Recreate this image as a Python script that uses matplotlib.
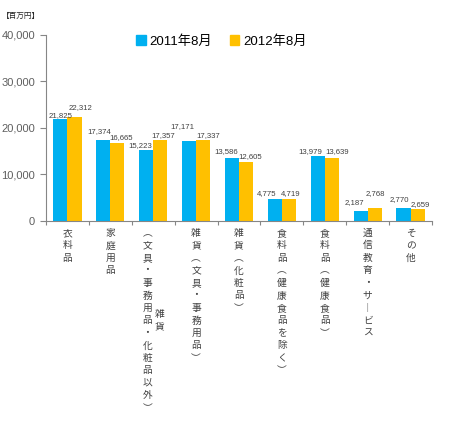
import matplotlib
matplotlib.use('Agg')
import matplotlib.pyplot as plt
import numpy as np
from matplotlib.patches import Patch

plt.rcParams['font.family'] = ['Liberation Sans', 'Noto Sans CJK JP', 'DejaVu Sans']

# data
categories = ['衣料品', '家庭用品', '雑貨（文具・事務用品・化粧品以外）', '雑貨（文具・事務用品）',
              '雑貨（化粧品）', '食料品（健康食品を除く）', '食料品（健康食品）',
              '通信教育・サービス', 'その他']
aug2011 = [21825, 17374, 15223, 17171, 13586, 4775, 13979, 2187, 2770]
aug2012 = [22312, 16665, 17357, 17337, 12605, 4719, 13639, 2768, 2659]
series_names = ['2011年8月', '2012年8月']
unit_label = '【百万円】'

# vertical-text columns for each category label (right column first, as in vertical writing)
label_columns = [
    ['衣料品'],
    ['家庭用品'],
    ['雑貨', '︵文具・事務用品・化粧品以外︶'],
    ['雑貨︵文具・事務用品︶'],
    ['雑貨︵化粧品︶'],
    ['食料品︵健康食品を除く︶'],
    ['食料品︵健康食品︶'],
    ['通信教育・サ︱ビス'],
    ['その他'],
]

# manual nudges of the value labels (pixels: dx, dy above bar top)
nudge_2011 = [(0, 4), (-4, 9), (-6, 5), (-7, 15), (-6, 6), (-8, 5), (-7, 4), (-6, 8), (-4, 9)]
nudge_2012 = [(6, 10), (4, 6), (3, 5), (5, 5), (4, 6), (2, 5), (5, 6), (1, 15), (3, 4)]

blue = '#00B0F0'
orange = '#FFC000'
axis_grey = '#868686'

fig = plt.figure(figsize=(4.5, 4.24), dpi=100)
ax = fig.add_axes([0.1022, 0.4788, 0.8578, 0.4387])

x = np.arange(len(categories))
w = 0.33
b1 = ax.bar(x - w / 2, aug2011, w, color=blue, zorder=2)
b2 = ax.bar(x + w / 2, aug2012, w, color=orange, zorder=2)

ax.set_xlim(-0.5, len(categories) - 0.5)
ax.set_ylim(0, 40000)
ax.set_yticks(np.arange(0, 40001, 10000))
ax.set_yticklabels([f'{v:,}' for v in np.arange(0, 40001, 10000)])
ax.tick_params(axis='y', labelsize=8, labelcolor='#5f5f5f', color=axis_grey,
               length=4, width=0.8, direction='out', pad=4)
ax.set_xticks([])
ax.set_xticks(np.arange(-0.5, len(categories)), minor=True)
ax.tick_params(axis='x', which='minor', length=3, color=axis_grey, width=0.8, direction='out')

for s in ['top', 'right']:
    ax.spines[s].set_visible(False)
for s in ['left', 'bottom']:
    ax.spines[s].set_color(axis_grey)
    ax.spines[s].set_linewidth(0.8)

# value labels
px = 0.72
for bars, vals, nudges in [(b1, aug2011, nudge_2011), (b2, aug2012, nudge_2012)]:
    for bar, v, (dx, dy) in zip(bars, vals, nudges):
        ax.annotate(f'{v:,}', xy=(bar.get_x() + bar.get_width() / 2, v),
                    xytext=(dx * px, dy * px), textcoords='offset points',
                    ha='center', va='center', fontsize=5.6, color='#404040')

# vertical category labels
step = 12.5
for i, cols in enumerate(label_columns):
    n = len(cols)
    longest = max(len(c) for c in cols)
    for j, col in enumerate(cols):
        xoff = ((n - 1) / 2 - j) * 12
        yshift = (longest - len(col)) / 2 * step
        for k, ch in enumerate(col):
            ax.annotate(ch, xy=(i, 0), xycoords=('data', 'axes fraction'),
                        xytext=(xoff * px, -(12 + yshift + k * step) * px),
                        textcoords='offset points', ha='center', va='center',
                        fontsize=7, color='#404040', annotation_clip=False)

# legend
handles = [Patch(color=blue), Patch(color=orange)]
fig.legend(handles, series_names, loc='center', bbox_to_anchor=(0.492, 0.903), ncol=2,
           frameon=False, fontsize=9.5, handlelength=0.75, handleheight=0.75,
           handletextpad=0.3, columnspacing=1.3)

fig.text(0.005, 0.962, unit_label, fontsize=5.5, color='#262626', ha='left', va='center')

fig.savefig('out.png', dpi=100)
